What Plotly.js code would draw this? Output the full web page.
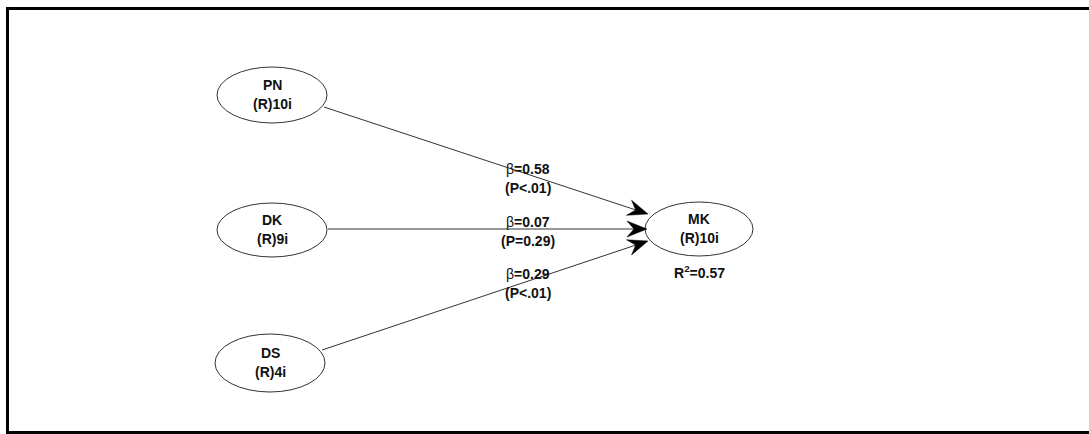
<!DOCTYPE html>
<html>
<head>
<meta charset="utf-8">
<script src="https://cdn.plot.ly/plotly-3.0.1.min.js"></script>
<style>
html,body{margin:0;padding:0;background:#fff;}
#chart{width:1089px;height:434px;}
</style>
</head>
<body>
<div id="chart"></div>
<script>
// ---- data ----
const nodeNames = ['PN', 'DK', 'DS', 'MK'];
const nodeItems = ['(R)10i', '(R)9i', '(R)4i', '(R)10i'];
const pathFrom = ['PN', 'DK', 'DS'];
const pathTo = ['MK', 'MK', 'MK'];
const betas = ['0.58', '0.07', '0.29'];
const pvalues = ['P<.01', 'P=0.29', 'P<.01'];
const r2Values = {MK: '0.57'};

// ---- layout (positions in pixel-like axis units) ----
const nodeX = [272, 272, 270, 699];
const nodeY = [95, 230, 363, 229];
const nodeRx = [55, 55, 55, 54];
const nodeRy = [28, 27, 29, 27];
const pathStart = [[324, 107], [328, 229], [322, 350]];
const pathTip = [[648, 214], [647, 229], [648, 241]];
const labelX = [528, 528, 528];
const labelY = [178, 231, 283];

const FONT = 'Liberation Sans, Arial, Helvetica, sans-serif';
const FS = 14;
const shapes = [];
const annotations = [];

// frame
shapes.push({type:'line', xref:'x', yref:'y', x0:6, x1:1089, y0:8.5, y1:8.5, line:{color:'#000', width:3}});
shapes.push({type:'line', xref:'x', yref:'y', x0:7.5, x1:7.5, y0:7, y1:434, line:{color:'#000', width:3}});
shapes.push({type:'line', xref:'x', yref:'y', x0:6, x1:1089, y0:432.5, y1:432.5, line:{color:'#000', width:3}});

// nodes
nodeNames.forEach((n, i) => {
  shapes.push({type:'circle', xref:'x', yref:'y',
    x0:nodeX[i]-nodeRx[i], x1:nodeX[i]+nodeRx[i], y0:nodeY[i]-nodeRy[i], y1:nodeY[i]+nodeRy[i],
    line:{color:'#333', width:1}, fillcolor:'rgba(0,0,0,0)'});
  annotations.push({x:nodeX[i], y:nodeY[i]-10, xref:'x', yref:'y', showarrow:false,
    text:'<b>'+n+'</b>', font:{family:FONT, size:FS, color:'#111'}});
  annotations.push({x:nodeX[i], y:nodeY[i]+9, xref:'x', yref:'y', showarrow:false,
    text:'<b>'+nodeItems[i]+'</b>', font:{family:FONT, size:FS, color:'#111'}});
  if (r2Values[n]) {
    annotations.push({x:nodeX[i], y:nodeY[i]+43, xref:'x', yref:'y', showarrow:false,
      text:'<b>R<sup>2</sup>=' + r2Values[n] + '</b>', font:{family:FONT, size:FS, color:'#111'}});
  }
});

// paths
pathFrom.forEach((f, k) => {
  const s = pathStart[k], t = pathTip[k];
  const dx = t[0]-s[0], dy = t[1]-s[1];
  const len = Math.sqrt(dx*dx+dy*dy);
  const ux = dx/len, uy = dy/len, nx = -uy, ny = ux;
  const L = 20, W = 8, N = 7;
  const back = [t[0]-(L-N)*ux, t[1]-(L-N)*uy];
  shapes.push({type:'line', xref:'x', yref:'y', x0:s[0], y0:s[1], x1:back[0], y1:back[1],
    line:{color:'#333', width:1}});
  const p1 = [t[0]-L*ux+W*nx, t[1]-L*uy+W*ny];
  const p2 = [t[0]-L*ux-W*nx, t[1]-L*uy-W*ny];
  shapes.push({type:'path', xref:'x', yref:'y',
    path:'M'+t[0]+','+t[1]+' L'+p1[0]+','+p1[1]+' L'+back[0]+','+back[1]+' L'+p2[0]+','+p2[1]+' Z',
    fillcolor:'#000', line:{color:'#000', width:0.5}});
  annotations.push({x:labelX[k], y:labelY[k]-9.5, xref:'x', yref:'y', showarrow:false,
    text:'β<b>=' + betas[k] + '</b>', font:{family:FONT, size:FS, color:'#111'}});
  annotations.push({x:labelX[k], y:labelY[k]+9.5, xref:'x', yref:'y', showarrow:false,
    text:'<b>(' + pvalues[k] + ')</b>', font:{family:FONT, size:FS, color:'#111'}});
});

const layout = {
  width:1089, height:434,
  margin:{l:0, r:0, t:0, b:0, pad:0},
  paper_bgcolor:'#fff', plot_bgcolor:'#fff',
  xaxis:{range:[0,1089], visible:false, fixedrange:true},
  yaxis:{range:[434,0], visible:false, fixedrange:true},
  showlegend:false,
  shapes:shapes,
  annotations:annotations
};

Plotly.newPlot('chart', [], layout, {displayModeBar:false, staticPlot:true});
</script>
</body>
</html>
